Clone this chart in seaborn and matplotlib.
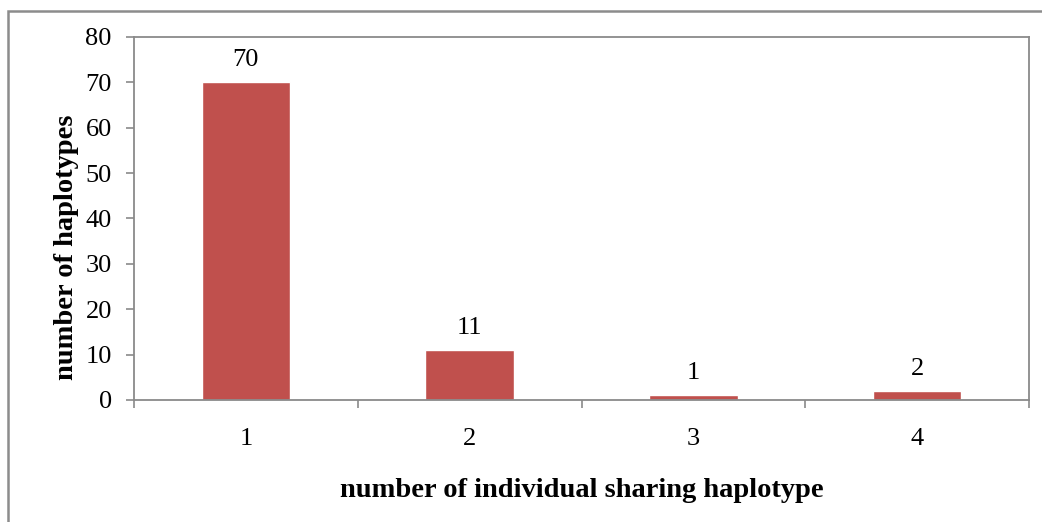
import matplotlib
matplotlib.use("Agg")
import matplotlib.pyplot as plt
from matplotlib.patches import Rectangle
from matplotlib.ticker import FixedLocator
import seaborn as sns
import pandas as pd

# Haplotype sharing counts
categories = ["1", "2", "3", "4"]
counts = [70, 11, 1, 2]
y_ticks = [0, 10, 20, 30, 40, 50, 60, 70, 80]

sns.set_style("white")
plt.rcParams["font.family"] = ["Liberation Serif", "DejaVu Serif"]
plt.rcParams["text.color"] = "black"
plt.rcParams["axes.labelcolor"] = "black"
plt.rcParams["xtick.color"] = "black"
plt.rcParams["ytick.color"] = "black"

W, H = 1042, 522
fig = plt.figure(figsize=(W / 100, H / 100), dpi=100)
ax = fig.add_axes([134 / W, 1 - 400 / H, (1029 - 134) / W, (400 - 37) / H])

df = pd.DataFrame({"group": categories, "count": counts})
sns.barplot(data=df, x="group", y="count", color="#C0504D", saturation=1,
            width=0.395, ax=ax)

axis_grey = "#8A8A8A"
ax.set_xlim(-0.5, len(categories) - 0.5)
ax.set_ylim(0, 80)
ax.set_yticks(y_ticks)
ax.set_yticklabels([str(v) for v in y_ticks], fontsize=19)
ax.set_xticks(range(len(categories)))
ax.set_xticklabels(categories, fontsize=19)
ax.xaxis.set_minor_locator(FixedLocator([i - 0.5 for i in range(len(categories) + 1)]))
ax.tick_params(axis="x", which="major", length=0, pad=20, bottom=True)
ax.tick_params(axis="x", which="minor", length=6, width=1.2, color=axis_grey,
               direction="out", bottom=True)
ax.tick_params(axis="y", length=6, width=1.2, color=axis_grey, direction="out",
               pad=10, left=True)

for side in ax.spines.values():
    side.set_visible(True)
    side.set_color(axis_grey)
    side.set_linewidth(1.3)

for p, v in zip(ax.patches, counts):
    ax.annotate(str(v), (p.get_x() + p.get_width() / 2, v),
                xytext=(0, 8), textcoords="offset points",
                ha="center", va="bottom", fontsize=19)

ax.set_xlabel("number of individual sharing haplotype", fontsize=20.5,
              fontweight="bold", labelpad=20)
ax.set_ylabel("number of haplotypes", fontsize=20.5, fontweight="bold", labelpad=5)
ax.yaxis.set_label_coords(-0.062, 0.42)

# Chart frame around the figure content
fig.patches.append(Rectangle((8 / W, -0.05), 1.2, 1 - 11 / H + 0.05,
                             transform=fig.transFigure, fill=False,
                             edgecolor="#8C8C8C", linewidth=1.8, zorder=0))

fig.savefig("out.png", dpi=100, facecolor="white")
